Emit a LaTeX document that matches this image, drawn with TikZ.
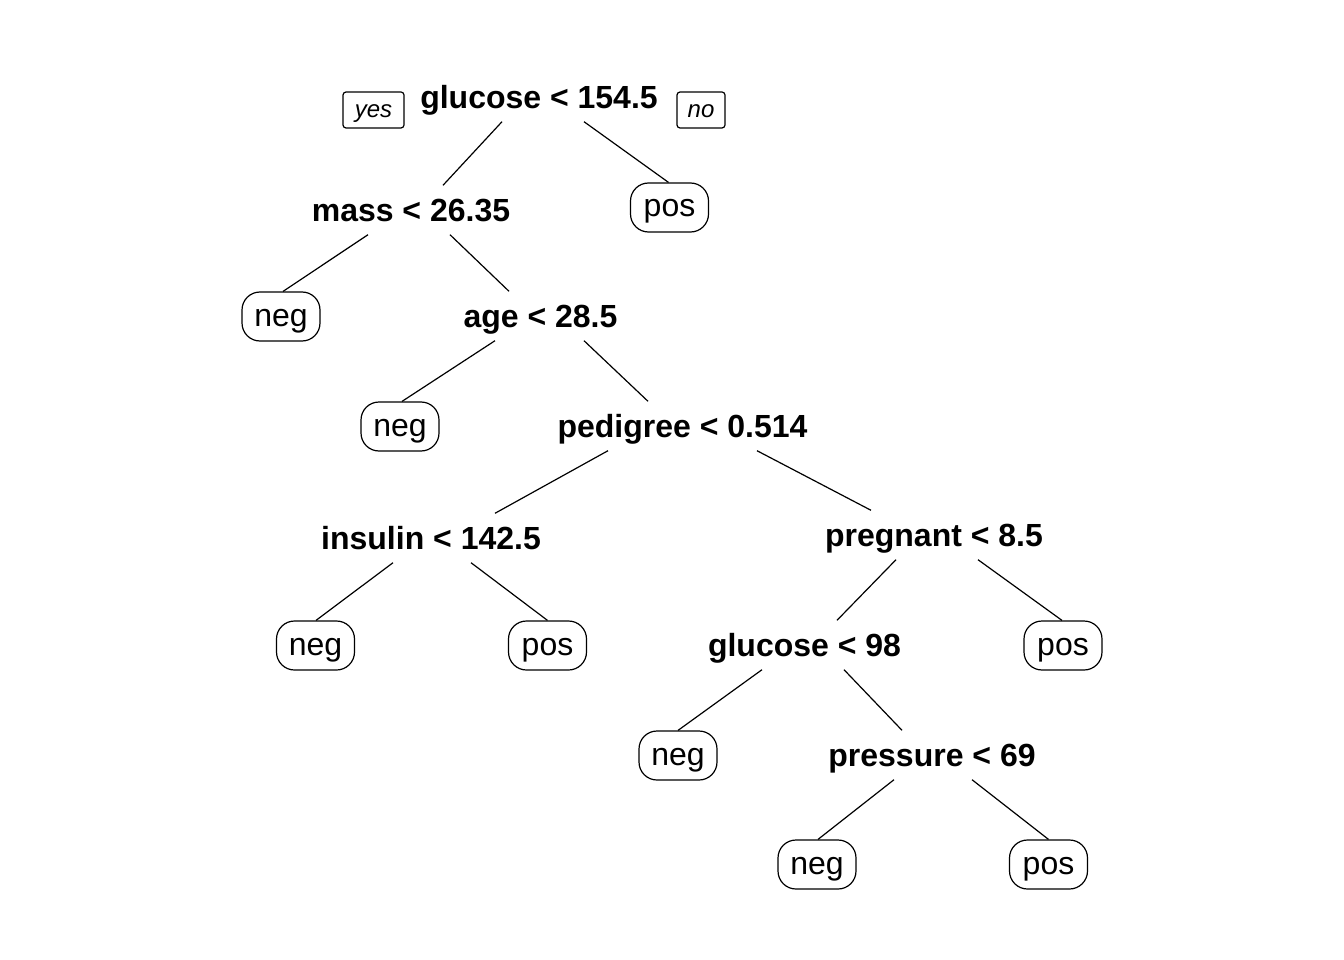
\documentclass[tikz,border=0pt]{standalone}
\usepackage{fontspec}
\setmainfont{Liberation Sans}
\begin{document}
\begin{tikzpicture}[x=1pt,y=-1pt,
  split/.style={font=\fontsize{32}{38}\selectfont\bfseries, inner xsep=0pt, inner ysep=13pt, text height=23pt, text depth=0pt},
  leaf/.style={draw, line width=1.2pt, font=\fontsize{32}{38}\selectfont, inner sep=0pt, minimum width=78pt, minimum height=49pt, text height=21pt, text depth=2pt, rounded corners=18pt},
  tag/.style={draw, line width=1.2pt, font=\fontsize{24}{28}\selectfont\itshape, inner sep=0pt, minimum height=36pt, text height=15pt, text depth=0pt, rounded corners=3pt},
  edge/.style={line width=1.2pt}]
\useasboundingbox (0,0) rectangle (1344,960);
% split nodes
\node[split] (g1) at (539,97) {glucose < 154.5};
\node[split] (ma) at (411,210) {mass < 26.35};
\node[split] (ag) at (540.5,316) {age < 28.5};
\node[split] (pe) at (682.5,426) {pedigree < 0.514};
\node[split] (in) at (431,538) {insulin < 142.5};
\node[split] (pr) at (934,535) {pregnant < 8.5};
\node[split] (g2) at (804.5,645) {glucose < 98};
\node[split] (ps) at (932,755) {pressure < 69};
% yes / no tags
\node[tag, minimum width=61pt] (yes) at (373.5,110) {yes};
\node[tag, minimum width=48pt] (no) at (701,110) {no};
% leaves
\node[leaf] (l1) at (669.5,207.5) {pos};
\node[leaf] (l2) at (281,316.5) {neg};
\node[leaf] (l3) at (400,426.5) {neg};
\node[leaf] (l4) at (315.5,645.5) {neg};
\node[leaf] (l5) at (547.5,645.5) {pos};
\node[leaf] (l6) at (1063,645.5) {pos};
\node[leaf] (l7) at (678,755.5) {neg};
\node[leaf] (l8) at (817,864.5) {neg};
\node[leaf] (l9) at (1048.5,864.5) {pos};
% edges
\draw[edge] ([xshift=-37pt]g1.south) -- ([xshift=32pt]ma.north);
\draw[edge] ([xshift=45pt]g1.south) -- ([xshift=-1pt]l1.north);
\draw[edge] ([xshift=-43pt]ma.south) -- ([xshift=2pt]l2.north);
\draw[edge] ([xshift=39pt]ma.south) -- ([xshift=-31.5pt]ag.north);
\draw[edge] ([xshift=-45.5pt]ag.south) -- ([xshift=2pt]l3.north);
\draw[edge] ([xshift=43.5pt]ag.south) -- ([xshift=-34.5pt]pe.north);
\draw[edge] ([xshift=-74.5pt]pe.south) -- ([xshift=64pt]in.north);
\draw[edge] ([xshift=74.5pt]pe.south) -- ([xshift=-63pt]pr.north);
\draw[edge] ([xshift=-38pt]in.south) -- ([xshift=0.5pt]l4.north);
\draw[edge] ([xshift=40pt]in.south) -- (l5.north);
\draw[edge] ([xshift=-38pt]pr.south) -- ([xshift=32.5pt]g2.north);
\draw[edge] ([xshift=44pt]pr.south) -- ([xshift=-1pt]l6.north);
\draw[edge] ([xshift=-42.5pt]g2.south) -- (l7.north);
\draw[edge] ([xshift=39.5pt]g2.south) -- ([xshift=-30pt]ps.north);
\draw[edge] ([xshift=-38pt]ps.south) -- ([xshift=1pt]l8.north);
\draw[edge] ([xshift=40pt]ps.south) -- (l9.north);
\end{tikzpicture}
\end{document}
